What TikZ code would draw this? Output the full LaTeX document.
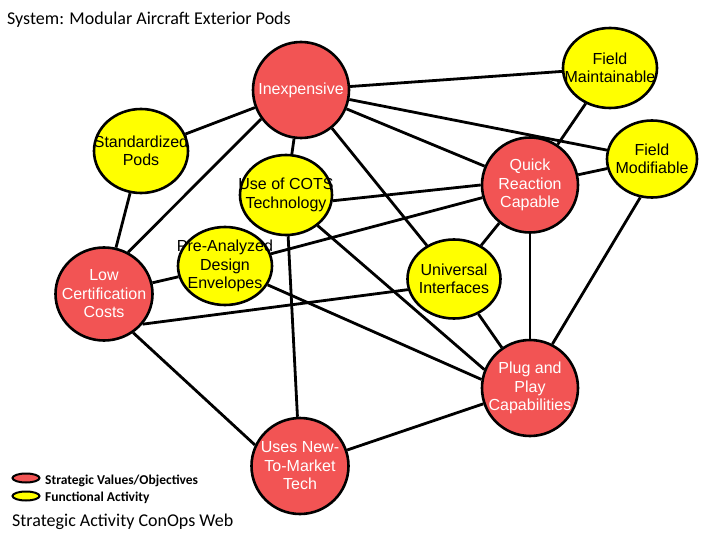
\documentclass[tikz,border=0pt]{standalone}
\usepackage{fontspec}
\setmainfont{Liberation Sans}
\newfontfamily\calfont{Carlito}
\usetikzlibrary{shapes.geometric,backgrounds}
\definecolor{objred}{RGB}{242,84,84}
\definecolor{actyellow}{RGB}{255,255,0}
\tikzset{
  nodebase/.style={ellipse, draw=black, line width=2.6pt, inner sep=0pt},
  objnode/.style={nodebase, fill=objred},
  actnode/.style={nodebase, fill=actyellow},
  wlbl/.style={font=\fontsize{16}{18.5}\selectfont, text=white, align=center, inner sep=0pt},
  blbl/.style={font=\fontsize{16}{18.5}\selectfont, text=black, align=center, inner sep=0pt},
  conn/.style={draw=black, line width=2.8pt},
  legtext/.style={font=\calfont\bfseries\fontsize{13.5}{15}\selectfont, anchor=base west, inner sep=0pt}
}
\begin{document}
\begin{tikzpicture}[x=1pt,y=-1pt]
\useasboundingbox (0,0) rectangle (720,540);

% nodes
\node[objnode, minimum width=96pt, minimum height=96pt, label={[wlbl]center:Inexpensive}] (inex) at (301,90) {};
\node[actnode, minimum width=94pt, minimum height=80pt, label={[blbl]center:{Field\\Maintainable}}] (fmaint) at (610,68) {};
\node[actnode, minimum width=90pt, minimum height=77pt, label={[blbl]center:{Field\\Modifiable}}] (fmodif) at (652,159) {};
\node[objnode, minimum width=96pt, minimum height=95pt, label={[wlbl]center:{Quick\\Reaction\\Capable}}] (qrc) at (530,185) {};
\node[actnode, minimum width=94pt, minimum height=84pt, label={[blbl]center:{Standardized\\Pods}}] (sp) at (141,151) {};
\node[actnode, minimum width=92pt, minimum height=80pt, label={[blbl]center:{Use of COTS\\Technology}}] (cots) at (286,195) {};
\node[actnode, minimum width=94pt, minimum height=78pt, label={[blbl]center:{Pre-Analyzed\\Design\\Envelopes}}] (pad) at (225,266) {};
\node[objnode, minimum width=97pt, minimum height=93pt, label={[wlbl]center:{Low\\Certification\\Costs}}] (lcc) at (104,294) {};
\node[actnode, minimum width=93pt, minimum height=79pt, label={[blbl]center:{Universal\\Interfaces}}] (ui) at (454,279) {};
\node[objnode, minimum width=96pt, minimum height=96pt, label={[wlbl]center:{Plug and\\Play\\Capabilities}}] (pnp) at (530,388) {};
\node[objnode, minimum width=97pt, minimum height=96pt, label={[wlbl]center:{Uses New-\\To-Market\\Tech}}] (unm) at (300,466) {};

% connectors (behind the nodes)
\begin{pgfonlayer}{background}
\fill[white] (0,0) rectangle (720,540);
\draw[conn] (inex) -- (fmaint);
\draw[conn] (inex) -- (fmodif);
\draw[conn] (inex) -- (qrc);
\draw[conn] (inex) -- (ui);
\draw[conn] (inex) -- (cots);
\draw[conn] (inex.216) -- (lcc.60);
\draw[conn] (inex) -- (sp);
\draw[conn] (fmaint) -- (qrc);
\draw[conn] (qrc) -- (fmodif);
\draw[conn] (qrc.180) -- (cots.-7);
\draw[conn] (qrc) -- (pad);
\draw[conn] (qrc) -- (ui);
\draw[conn] (qrc) -- (pnp);
\draw[conn] (fmodif.-107) -- (pnp.63);
\draw[conn] (ui) -- (pnp);
\draw[conn] (ui.193) -- (lcc.-38);
\draw[conn] (cots.-44) -- (pnp.158);
\draw[conn] (cots) -- (unm);
\draw[conn] (pad) -- (pnp.170);
\draw[conn] (pad) -- (lcc);
\draw[conn] (lcc) -- (sp);
\draw[conn] (lcc.-53) -- (unm.155);
\draw[conn] (unm) -- (pnp);
\end{pgfonlayer}

% title
\node[anchor=base west, inner sep=0pt, font=\calfont\fontsize{18}{20}\selectfont] (title) at (7,25) {System: Modular Aircraft Exterior Pods};

% legend
\node[objnode, line width=2pt, minimum width=27pt, minimum height=9pt] (legobj) at (26,478) {};
\node[actnode, line width=2pt, minimum width=27pt, minimum height=9pt] (legact) at (26,496) {};
\node[legtext] (legobjt) at (45,484) {Strategic Values/Objectives};
\node[legtext] (legactt) at (45,501) {Functional Activity};
\node[anchor=base west, inner sep=0pt, font=\calfont\fontsize{18}{20}\selectfont] (webtitle) at (12,526) {Strategic Activity ConOps Web};
\end{tikzpicture}
\end{document}
